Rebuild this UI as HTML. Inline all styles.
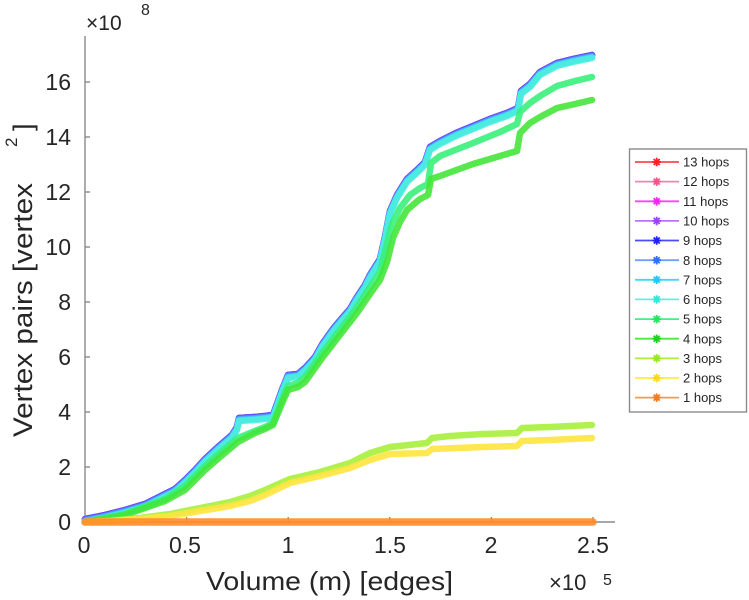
<!DOCTYPE html>
<html>
<head>
<meta charset="utf-8">
<style>
  html,body{margin:0;padding:0;background:#fff;}
  svg{display:block;}
  text{font-family:"Liberation Sans",Arial,sans-serif;fill:#262626;}
</style>
</head>
<body>
<svg width="749" height="600" viewBox="0 0 749 600" xmlns="http://www.w3.org/2000/svg">
  <rect x="0" y="0" width="749" height="600" fill="#fff"/>

  <!-- exponent labels -->
  <text x="86" y="30" font-size="21">×10</text>
  <text x="141" y="15" font-size="16">8</text>
  <text x="549" y="590" font-size="22">×10</text>
  <text x="603" y="585" font-size="16">5</text>

  <!-- axes -->
  <g stroke="#8a8a8a" stroke-width="1.4" fill="none">
    <line x1="85" y1="36" x2="85" y2="522.5"/>
    <line x1="84.5" y1="522" x2="615" y2="522"/>
    <line x1="85" y1="467" x2="90" y2="467"/>
    <line x1="85" y1="412" x2="90" y2="412"/>
    <line x1="85" y1="357" x2="90" y2="357"/>
    <line x1="85" y1="302" x2="90" y2="302"/>
    <line x1="85" y1="247" x2="90" y2="247"/>
    <line x1="85" y1="192" x2="90" y2="192"/>
    <line x1="85" y1="137" x2="90" y2="137"/>
    <line x1="85" y1="82" x2="90" y2="82"/>
    <line x1="186.6" y1="522" x2="186.6" y2="517"/>
    <line x1="288.2" y1="522" x2="288.2" y2="517"/>
    <line x1="389.8" y1="522" x2="389.8" y2="517"/>
    <line x1="491.4" y1="522" x2="491.4" y2="517"/>
    <line x1="593" y1="522" x2="593" y2="517"/>
  </g>

  <!-- y tick labels -->
  <g font-size="23" text-anchor="end">
    <text x="71" y="530">0</text>
    <text x="71" y="475">2</text>
    <text x="71" y="420">4</text>
    <text x="71" y="365">6</text>
    <text x="71" y="310">8</text>
    <text x="71" y="255">10</text>
    <text x="71" y="200">12</text>
    <text x="71" y="145">14</text>
    <text x="71" y="90">16</text>
  </g>
  <!-- x tick labels -->
  <g font-size="23" text-anchor="middle">
    <text x="84" y="553">0</text>
    <text x="185" y="553">0.5</text>
    <text x="288" y="553">1</text>
    <text x="390" y="553">1.5</text>
    <text x="491" y="553">2</text>
    <text x="593" y="553">2.5</text>
  </g>

  <!-- axis labels -->
  <text x="206" y="590" font-size="26" textLength="247" lengthAdjust="spacingAndGlyphs">Volume (m) [edges]</text>
  <g transform="translate(32,437) rotate(-90)">
    <text x="0" y="0" font-size="27" textLength="254" lengthAdjust="spacingAndGlyphs">Vertex pairs [vertex</text>
  </g>
  <g transform="translate(17,147) rotate(-90)">
    <text x="0" y="0" font-size="17">2</text>
  </g>
  <g transform="translate(32,131) rotate(-90)">
    <text x="0" y="0" font-size="27">]</text>
  </g>

  <!-- data series -->
  <defs>
    <polyline id="T" points="85,522 105,518 125,513 145,507 165,497 175,492 185,483 195,473 205,462 218,450 232,438 237,430 239,421 255,420 265,419 273,418 277,407 282,393 288,378 298,377 305,371 315,360 323,346 333,332 343,320 350,312 357,300 365,288 370,278 380,262 385,240 390,214 397,198 407,182 418,172 425,165 430,150 440,144 456,136 473,129 490,122 507,116 518,111 521,94 530,87 540,75 557,66 573,62 592,58"/>
  </defs>
  <g fill="none" stroke-width="6.5" stroke-linejoin="round" stroke-linecap="round" stroke-opacity="0.9">
    <use href="#T" stroke="#ff4a4a" transform="translate(0,-3)"/>
    <use href="#T" stroke="#ff70a0" transform="translate(0,-3)"/>
    <use href="#T" stroke="#ff45ff" transform="translate(0,-3)"/>
    <use href="#T" stroke="#b055ff" transform="translate(0,-3)"/>
    <use href="#T" stroke="#5050ff" transform="translate(0,-3)"/>
    <use href="#T" stroke="#5a8cff" transform="translate(0,-2)"/>
    <use href="#T" stroke="#38d4ff" transform="translate(0,-1)"/>
    <use href="#T" stroke="#4cf0dc"/>
    <!-- 5 hops -->
    <polyline stroke="#38f07a" points="85,522 125,514 165,499 185,486 205,466 220,453 232,443 238,438 255,431 265,427 273,423 278,410 283,397 288,386 298,383 305,377 323,352 343,326 357,307 370,287 380,272 385,252 392,224 400,208 410,195 420,188 428,184 431,163 440,156 473,143 500,132 517,124 520,112 530,103 540,96 557,86 575,81 592,77"/>
    <!-- 4 hops -->
    <polyline stroke="#44e63a" points="85,522 125,515 165,501 185,490 205,470 220,457 232,447 238,442 255,433 265,429 273,425 278,413 283,401 288,390 298,387 305,382 323,357 343,331 357,313 370,294 380,280 387,262 393,238 400,222 407,210 420,199 428,195 431,179 440,176 473,164 500,156 517,151 520,133 530,123 540,117 557,108 575,104 592,100"/>
    <!-- 3 hops -->
    <polyline stroke="#a8f03c" points="85,522 110,521 140,518 170,514 200,508 230,502 250,496 265,490 290,479 320,472 350,463 370,453 390,447 427,443 432,438 450,436 483,434 517,433 522,428 550,427 592,425"/>
    <!-- 2 hops -->
    <polyline stroke="#ffe43e" points="85,522 110,521 140,519 170,516 200,511 230,506 250,501 265,495 290,483 320,476 350,468 370,460 390,454 427,453 432,449 483,447 517,446 522,441 550,440 592,438"/>
    <!-- 1 hops -->
    <polyline stroke="#ff8c2a" stroke-width="7.5" points="85,522 593,522"/>
  </g>

  <!-- legend -->
  <rect x="629.5" y="149" width="117" height="263" fill="#fff" stroke="#8a8a8a" stroke-width="1.4"/>
  <g stroke-width="1.8">
    <g transform="translate(0,162)"><line x1="635" y1="0" x2="679" y2="0" stroke="#ff4a4a"/><path d="M652.5,0h8.5M656.7,-4.2v8.5M653.7,-3l6,6M653.7,3l6,-6" stroke="#ff2020"/></g>
    <g transform="translate(0,181.6)"><line x1="635" y1="0" x2="679" y2="0" stroke="#ff80b0"/><path d="M652.5,0h8.5M656.7,-4.2v8.5M653.7,-3l6,6M653.7,3l6,-6" stroke="#ff5090"/></g>
    <g transform="translate(0,201.3)"><line x1="635" y1="0" x2="679" y2="0" stroke="#ff45ff"/><path d="M652.5,0h8.5M656.7,-4.2v8.5M653.7,-3l6,6M653.7,3l6,-6" stroke="#ff20ff"/></g>
    <g transform="translate(0,220.9)"><line x1="635" y1="0" x2="679" y2="0" stroke="#c070ff"/><path d="M652.5,0h8.5M656.7,-4.2v8.5M653.7,-3l6,6M653.7,3l6,-6" stroke="#a040ff"/></g>
    <g transform="translate(0,240.5)"><line x1="635" y1="0" x2="679" y2="0" stroke="#4a4aff"/><path d="M652.5,0h8.5M656.7,-4.2v8.5M653.7,-3l6,6M653.7,3l6,-6" stroke="#2020ff"/></g>
    <g transform="translate(0,260.2)"><line x1="635" y1="0" x2="679" y2="0" stroke="#70a0ff"/><path d="M652.5,0h8.5M656.7,-4.2v8.5M653.7,-3l6,6M653.7,3l6,-6" stroke="#3070ff"/></g>
    <g transform="translate(0,279.8)"><line x1="635" y1="0" x2="679" y2="0" stroke="#40d8ff"/><path d="M652.5,0h8.5M656.7,-4.2v8.5M653.7,-3l6,6M653.7,3l6,-6" stroke="#20c8ff"/></g>
    <g transform="translate(0,299.4)"><line x1="635" y1="0" x2="679" y2="0" stroke="#60f0e0"/><path d="M652.5,0h8.5M656.7,-4.2v8.5M653.7,-3l6,6M653.7,3l6,-6" stroke="#30e8d8"/></g>
    <g transform="translate(0,319.1)"><line x1="635" y1="0" x2="679" y2="0" stroke="#40f080"/><path d="M652.5,0h8.5M656.7,-4.2v8.5M653.7,-3l6,6M653.7,3l6,-6" stroke="#20e860"/></g>
    <g transform="translate(0,338.7)"><line x1="635" y1="0" x2="679" y2="0" stroke="#50e840"/><path d="M652.5,0h8.5M656.7,-4.2v8.5M653.7,-3l6,6M653.7,3l6,-6" stroke="#20d020"/></g>
    <g transform="translate(0,358.3)"><line x1="635" y1="0" x2="679" y2="0" stroke="#b0f040"/><path d="M652.5,0h8.5M656.7,-4.2v8.5M653.7,-3l6,6M653.7,3l6,-6" stroke="#98e820"/></g>
    <g transform="translate(0,378)"><line x1="635" y1="0" x2="679" y2="0" stroke="#ffe850"/><path d="M652.5,0h8.5M656.7,-4.2v8.5M653.7,-3l6,6M653.7,3l6,-6" stroke="#ffd820"/></g>
    <g transform="translate(0,397.6)"><line x1="635" y1="0" x2="679" y2="0" stroke="#ff9a40"/><path d="M652.5,0h8.5M656.7,-4.2v8.5M653.7,-3l6,6M653.7,3l6,-6" stroke="#ff7a10"/></g>
  </g>
  <g font-size="13">
    <text x="683" y="166.6">13 hops</text>
    <text x="683" y="186.2">12 hops</text>
    <text x="683" y="205.9">11 hops</text>
    <text x="683" y="225.5">10 hops</text>
    <text x="683" y="245.1">9 hops</text>
    <text x="683" y="264.8">8 hops</text>
    <text x="683" y="284.4">7 hops</text>
    <text x="683" y="304">6 hops</text>
    <text x="683" y="323.7">5 hops</text>
    <text x="683" y="343.3">4 hops</text>
    <text x="683" y="362.9">3 hops</text>
    <text x="683" y="382.6">2 hops</text>
    <text x="683" y="402.2">1 hops</text>
  </g>
</svg>
</body>
</html>
